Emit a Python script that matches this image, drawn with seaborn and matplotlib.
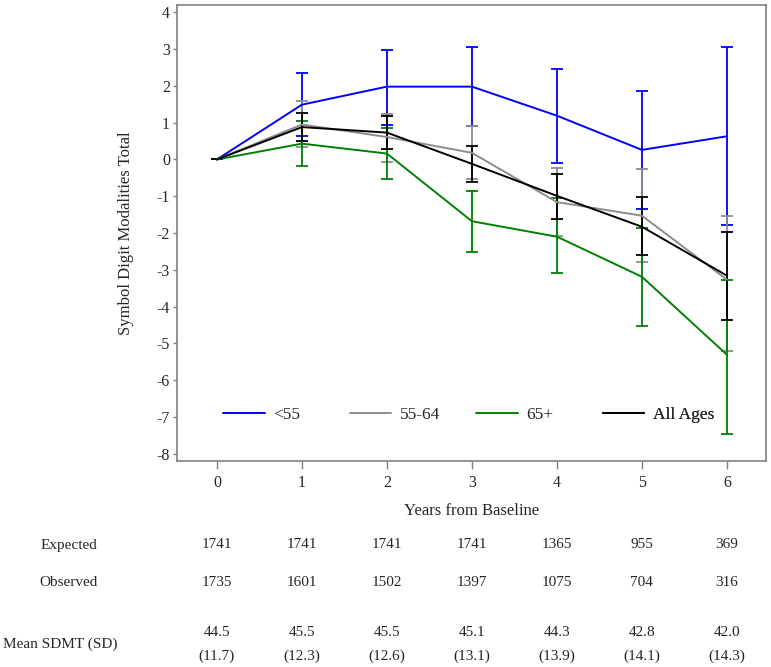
import numpy as np
import pandas as pd
import matplotlib
matplotlib.use("Agg")
import matplotlib.pyplot as plt
import seaborn as sns

years = [0, 1, 2, 3, 4, 5, 6]
groups = ["<55", "55-64", "65+", "All Ages"]
colors = ["#0000FF", "#8C8C8C", "#008000", "#000000"]

mean_lt55 = [0, 1.49, 1.98, 1.98, 1.19, 0.26, 0.63]
upper_lt55 = [0, 2.35, 2.98, 3.05, 2.47, 1.87, 3.05]
lower_lt55 = [0, 0.63, 0.95, 0.91, -0.11, -1.36, -1.77]

mean_5564 = [0, 0.95, 0.61, 0.18, -1.16, -1.53, -3.27]
upper_5564 = [0, 1.59, 1.24, 0.91, -0.24, -0.27, -1.53]
lower_5564 = [0, 0.35, -0.08, -0.54, -2.09, -2.79, -5.22]

mean_65p = [0, 0.43, 0.16, -1.68, -2.10, -3.19, -5.31]
upper_65p = [0, 1.04, 0.86, -0.87, -1.04, -1.87, -3.27]
lower_65p = [0, -0.17, -0.54, -2.51, -3.09, -4.52, -7.47]

mean_all = [0, 0.88, 0.73, -0.12, -0.99, -1.83, -3.16]
upper_all = [0, 1.26, 1.17, 0.36, -0.39, -1.03, -1.96]
lower_all = [0, 0.49, 0.28, -0.62, -1.61, -2.59, -4.36]

expected = ["1741", "1741", "1741", "1741", "1365", "955", "369"]
observed = ["1735", "1601", "1502", "1397", "1075", "704", "316"]
mean_sdmt = ["44.5", "45.5", "45.5", "45.1", "44.3", "42.8", "42.0"]
sd_sdmt = ["(11.7)", "(12.3)", "(12.6)", "(13.1)", "(13.9)", "(14.1)", "(14.3)"]

yticks = list(range(-8, 5))

means = [mean_lt55, mean_5564, mean_65p, mean_all]
uppers = [upper_lt55, upper_5564, upper_65p, upper_all]
lowers = [lower_lt55, lower_5564, lower_65p, lower_all]

rows = []
for g, m in zip(groups, means):
    for yr, v in zip(years, m):
        rows.append({"Years": yr, "Value": v, "Group": g})
df = pd.DataFrame(rows)

sns.set_theme(style="white")
plt.rcParams["font.family"] = ["Liberation Serif", "DejaVu Serif"]
plt.rcParams["axes.unicode_minus"] = False

fig = plt.figure(figsize=(7.71, 6.67), dpi=100)
ax = fig.add_axes([177 / 771, 1 - 461 / 667, (766 - 177) / 771, (461 - 5) / 667])

for g, c, m, up, lo in zip(groups, colors, means, uppers, lowers):
    m = np.array(m); up = np.array(up); lo = np.array(lo)
    ax.errorbar(years, m, yerr=[m - lo, up - m], fmt="none", ecolor=c,
                elinewidth=1.3, capsize=4, capthick=1.3, zorder=2)

sns.lineplot(data=df, x="Years", y="Value", hue="Group", hue_order=groups,
             palette=colors, linewidth=1.4, ax=ax, zorder=3)

handles, labels = ax.get_legend_handles_labels()
if ax.get_legend() is not None:
    ax.get_legend().remove()

ax.set_xlim(-0.47, 6.46)
ax.set_ylim(-8.2, 4.2)
ax.set_xticks(years)
ax.set_yticks(yticks)
ax.set_xticklabels([str(y) for y in years])
ax.set_yticklabels([str(y) for y in yticks])
ax.tick_params(axis="x", direction="out", length=6, width=1,
               color="#808080", labelsize=11.5, pad=4, bottom=True)
ax.tick_params(axis="y", direction="out", length=3, width=1,
               color="#808080", labelsize=11.5, pad=2, left=True)
for s in ax.spines.values():
    s.set_color("#808080")
    s.set_linewidth(1.2)

ax.set_xlabel("Years from Baseline", fontsize=12, labelpad=9)
ax.set_ylabel("Symbol Digit Modalities Total", fontsize=12, labelpad=16)

# legend entries evenly spaced, as in the reference
legend_x = [0.07, 1.56, 3.05, 4.54]
for h, l, lx in zip(handles, labels, legend_x):
    lg = ax.legend([h], [l], loc="center left", bbox_to_anchor=(lx, -6.95),
                   bbox_transform=ax.transData, frameon=False, fontsize=12.5,
                   handlelength=2.4, handletextpad=0.5, borderpad=0,
                   borderaxespad=0)
    ax.add_artist(lg)

trans = matplotlib.transforms.blended_transform_factory(ax.transData, fig.transFigure)
def fy(p):
    return 1 - p / 667

for yr, e, o, mn, sd in zip(years, expected, observed, mean_sdmt, sd_sdmt):
    ax.text(yr, fy(545), e, transform=trans, ha="center", va="center", fontsize=11)
    ax.text(yr, fy(583), o, transform=trans, ha="center", va="center", fontsize=11)
    ax.text(yr, fy(632), mn, transform=trans, ha="center", va="center", fontsize=11)
    ax.text(yr, fy(656), sd, transform=trans, ha="center", va="center", fontsize=11)

fig.text(69 / 771, fy(545), "Expected", ha="center", va="center", fontsize=11)
fig.text(69 / 771, fy(583), "Observed", ha="center", va="center", fontsize=11)
fig.text(60 / 771, fy(644), "Mean SDMT (SD)", ha="center", va="center", fontsize=11)

fig.savefig("out.png", dpi=100)
